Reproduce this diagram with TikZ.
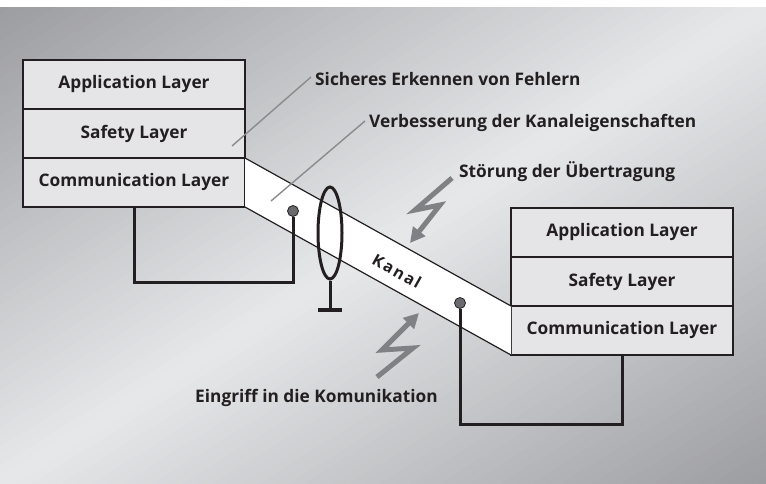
\documentclass[tikz,border=0pt]{standalone}
\usepackage{fontspec}
\setmainfont{Open Sans}
\usetikzlibrary{positioning}
\usetikzlibrary{shapes.geometric}
\usetikzlibrary{arrows.meta}

\definecolor{bgdark}{RGB}{156,157,161}
\definecolor{bglight}{RGB}{231,232,234}
\definecolor{boxgray}{RGB}{229,229,231}
\definecolor{ink}{RGB}{35,31,32}
\definecolor{leadgray}{RGB}{138,139,141}
\definecolor{flashgray}{RGB}{128,129,132}
\definecolor{dotgray}{RGB}{105,106,109}

\tikzset{
  layer/.style={draw=ink, line width=1.2pt, fill=boxgray, outer sep=0pt,
    minimum width=222pt, minimum height=49pt, inner sep=0pt, text=ink,
    font=\bfseries\fontsize{17.3}{20}\selectfont},
  caption/.style={anchor=west, inner sep=0pt, text=ink,
    font=\bfseries\fontsize{17.3}{20}\selectfont},
  leader/.style={draw=leadgray, line width=1.4pt},
  wire/.style={draw=ink, line width=3pt},
  flash/.style={draw=flashgray, line width=5pt, -{Triangle[width=15pt,length=15pt]}},
  probe/.style={circle, draw=ink, fill=dotgray, line width=0.8pt, minimum size=11pt, inner sep=0pt},
  ferrite/.style={ellipse, draw=ink, line width=3pt, minimum width=24pt, minimum height=92pt, inner sep=0pt},
}

\begin{document}
\begin{tikzpicture}[x=1pt, y=-1pt]
  \useasboundingbox (0,0) rectangle (766,484);
  \fill[white] (0,0) rectangle (766,8);
  \begin{scope}
    \clip (0,8) rectangle (766,484);
    \begin{scope}[shift={(383,246)}, rotate=-58.1]
      \foreach \s in {-408,-400,...,400}{
        \pgfmathsetmacro\mix{max(0,100*(1-abs(\s+4)/404))}
        \fill[bglight!\mix!bgdark] (\s,-700) rectangle (\s+8.6,700);
      }
    \end{scope}
  \end{scope}

  \node[layer] (lapp) at (134,84.5) {Application Layer};
  \node[layer, below=0pt of lapp] (lsafe) {Safety Layer};
  \node[layer, below=0pt of lsafe] (lcomm) {Communication Layer};

  \node[layer] (rapp) at (622,232.5) {Application Layer};
  \node[layer, below=0pt of rapp] (rsafe) {Safety Layer};
  \node[layer, below=0pt of rsafe] (rcomm) {Communication Layer};

  \fill[white] (lcomm.north east) -- (rcomm.north west) -- (rcomm.south west) -- (lcomm.south east) -- cycle;
  \draw[ink, line width=1.2pt] (lcomm.north east) -- (rcomm.north west);
  \draw[ink, line width=1.2pt] (lcomm.south east) -- (rcomm.south west);
  \node[text=ink, rotate=-29.25, font=\bfseries\fontsize{16}{18}\selectfont\addfontfeature{LetterSpace=12}] (kanal) at (397,271) {Kanal};

  \node[probe] (ldot) at (293,211) {};
  \node[probe] (rdot) at (460,303) {};
  \coordinate (lbend) at (293,282);
  \coordinate (rbend) at (460,424);
  \draw[wire] (lcomm.south) |- (lbend) -- (ldot);
  \draw[wire] (rdot) -- (rbend) -| (rcomm.south);

  \node[ferrite] (filter) at (330,233) {};
  \coordinate (gnd) at (330,310);
  \draw[wire] (filter.south) -- (gnd);
  \draw[ink, line width=4pt] ([xshift=-12pt]gnd) -- ([xshift=12pt]gnd);

  \node[caption] (sicher) at (315,79) {Sicheres Erkennen von Fehlern};
  \node[caption] (verbess) at (369,123) {Verbesserung der Kanaleigenschaften};
  \node[caption] (stoer) at (459,172) {Störung der Übertragung};
  \node[caption] (eingriff) at (195,398) {Eingriff in die Komunikation};
  \coordinate (safetip) at (232,146);
  \coordinate (kanaltip) at (271,201);
  \draw[leader] (safetip) -- ([xshift=-4pt,yshift=2pt]sicher.west);
  \draw[leader] (kanaltip) -- ([xshift=-4pt,yshift=2pt]verbess.west);

  \draw[flash] (452,178) -- (415,210) -- (440,205) -- (410,243);
  \draw[flash] (377,377) -- (413,348) -- (382,350) -- (419,313);
\end{tikzpicture}
\end{document}
